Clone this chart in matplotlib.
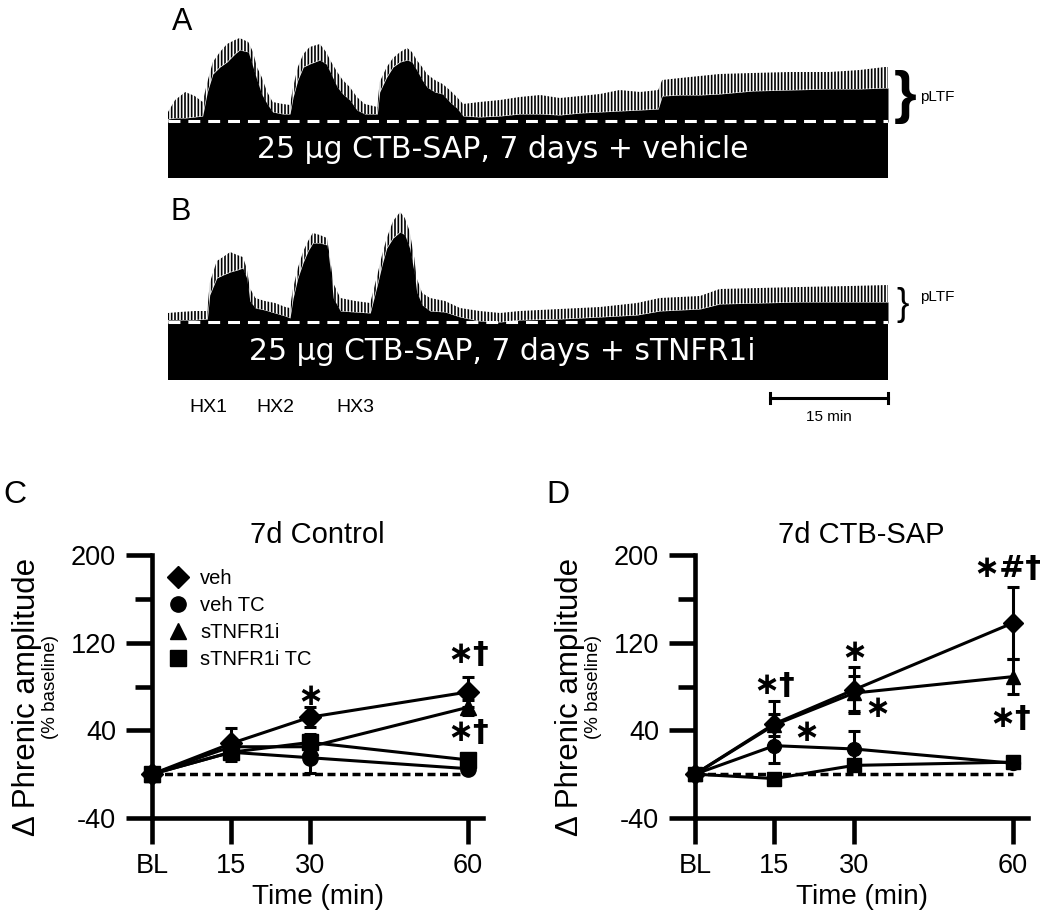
import matplotlib
matplotlib.use("Agg")
import matplotlib.pyplot as plt
from matplotlib.lines import Line2D

plt.rcParams['font.family'] = ['Liberation Sans', 'DejaVu Sans']
plt.rcParams['hatch.linewidth'] = 1.2
plt.rcParams['axes.unicode_minus'] = False

W, H = 1045, 914

# ---- phrenic traces (A, B): time in min, body / spike envelope height (a.u.)
trace_a_t = [0, 0.9, 2.2, 3.4, 4.4, 5.0, 5.7, 6.6, 7.5, 8.5, 9.1, 10.2, 10.8, 11.3, 11.9,
             12.6, 13.3, 14.6, 15.5, 15.9, 16.5, 17.2, 18.0, 19.3, 20.1, 20.6, 21.5, 22.2,
             23.1, 24.0, 25.0, 26.6, 26.9, 27.8, 28.6, 29.5, 30.4, 31.0, 31.6, 32.3, 32.9,
             33.9, 34.9, 35.8, 36.7, 37.5, 39.6, 42.2, 44.7, 47.3, 49.8, 52.4, 54.9, 57.4,
             60.0, 62.3, 62.8, 65.1, 67.6, 70.1, 74.3, 79.0, 84.1, 87.9, 91.1, 91.5]
trace_a_body = [3, 4, 4, 5, 6, 30, 48, 55, 60, 68, 72, 70, 55, 42, 28, 18, 10, 8, 8, 25, 42,
                55, 58, 62, 58, 50, 35, 28, 22, 12, 8, 8, 30, 45, 55, 60, 62, 60, 52, 42, 35,
                30, 28, 20, 14, 6, 5, 6, 8, 8, 7, 9, 10, 11, 12, 13, 26, 27, 27, 28, 31, 32,
                33, 33, 34, 34]
trace_a_spike = [10, 22, 30, 26, 20, 40, 60, 70, 78, 82, 84, 80, 70, 55, 45, 30, 20, 18, 17,
                 35, 55, 68, 75, 78, 70, 62, 50, 42, 35, 25, 18, 15, 40, 55, 64, 70, 74, 70,
                 62, 55, 48, 42, 38, 32, 25, 18, 20, 22, 25, 27, 24, 26, 28, 32, 30, 32, 42,
                 44, 46, 48, 49, 50, 50, 52, 55, 55]

trace_b_t = [0, 1.5, 3.4, 5.0, 5.3, 6.2, 7.0, 7.9, 8.8, 9.5, 10.0, 10.4, 11.1, 12.3, 13.6,
             14.9, 15.5, 15.9, 16.5, 17.2, 17.8, 18.4, 19.3, 20.2, 20.6, 21.0, 21.9, 23.8,
             25.7, 26.6, 27.2, 27.8, 28.6, 29.5, 30.1, 30.7, 31.3, 31.6, 32.3, 33.3, 35.2,
             37.1, 39.6, 42.2, 44.7, 49.8, 54.9, 59.6, 62.5, 67.6, 70.1, 75.2, 80.3, 86.7, 91.5]
trace_b_body = [3, 3, 3, 4, 28, 45, 48, 51, 53, 55, 45, 22, 15, 13, 10, 7, 5, 25, 45, 61, 72,
                80, 80, 78, 55, 25, 12, 11, 10, 38, 58, 75, 85, 91, 88, 75, 50, 31, 18, 12, 11,
                6, 2, 1, 3, 4, 6, 8, 12, 14, 19, 20, 21, 21, 21]
trace_b_spike = [10, 11, 12, 12, 40, 62, 66, 71, 68, 66, 55, 35, 25, 22, 20, 16, 15, 35, 55,
                 72, 82, 90, 88, 85, 65, 40, 25, 22, 20, 48, 68, 85, 102, 111, 105, 92, 65, 45,
                 30, 25, 22, 15, 12, 10, 12, 14, 16, 20, 25, 27, 34, 35, 36, 37, 38]

hx_labels = ['HX1', 'HX2', 'HX3']
hx_t = [5.1, 13.7, 23.8]

# ---- summary data (C, D)
time_labels = ['BL', '15', '30', '60']
time_min = [0, 15, 30, 60]
groups = ['veh', 'veh TC', 'sTNFR1i', 'sTNFR1i TC']
markers = ['D', 'o', '^', 's']

ctrl_mean = {'veh': [0, 28, 52, 75], 'veh TC': [0, 20, 15, 5],
             'sTNFR1i': [0, 25, 25, 61], 'sTNFR1i TC': [0, 20, 29, 13]}
ctrl_sem = {'veh': [0, 14, 9, 14], 'veh TC': [0, 8, 14, 4],
            'sTNFR1i': [0, 6, 6, 7], 'sTNFR1i TC': [0, 6, 8, 4]}

sap_mean = {'veh': [0, 46, 77, 138], 'veh TC': [0, 26, 23, 10],
            'sTNFR1i': [0, 45, 74, 89], 'sTNFR1i TC': [0, -4, 8, 11]}
sap_sem = {'veh': [0, 21, 21, 33], 'veh TC': [0, 16, 16, 3],
           'sTNFR1i': [0, 10, 16, 16], 'sTNFR1i TC': [0, 3, 4, 3]}

ctrl_marks = [('∗', 30, 71), ('∗†', 60, 109), ('∗†', 60, 38)]
sap_marks = [('∗†', 15, 81), ('∗', 21, 38), ('∗', 30, 111), ('∗', 34.5, 60),
             ('∗#†', 59, 188), ('∗†', 59.5, 51)]


def fx(px):
    return px / W


def fy(py):
    return 1 - py / H


fig = plt.figure(figsize=(W / 100, H / 100), dpi=100)


def draw_trace(top, base, bottom, t, body, spike, label):
    ax = fig.add_axes([fx(168), fy(bottom), fx(888) - fx(168), (bottom - top) / H])
    ax.set_xlim(0, 91.5)
    ax.set_ylim(-(bottom - base), base - top)
    ax.axis('off')
    ax.axhspan(-(bottom - base), 0, color='black', lw=0)
    ax.fill_between(t, 0, body, color='black', lw=0)
    ax.fill_between(t, body, spike, facecolor='none', edgecolor='black', hatch='|||||', lw=0)
    ax.plot([0, 91.5], [1, 1], color='white', lw=2.2, dashes=(3.9, 2.6))
    ax.text(42.5, -(bottom - base) / 2, label, color='white', fontsize=21.5,
            family=['DejaVu Sans'], ha='center', va='center')
    return ax


ax_a = draw_trace(30, 122, 178, trace_a_t, trace_a_body, trace_a_spike,
                  '25 μg CTB-SAP, 7 days + vehicle')
ax_b = draw_trace(205, 323, 380, trace_b_t, trace_b_body, trace_b_spike,
                  '25 μg CTB-SAP, 7 days + sTNFR1i')

for lab, t in zip(hx_labels, hx_t):
    ax_b.text(t, -85, lab, fontsize=14, ha='center', va='center', clip_on=False)

# 15 min scale bar
ax_b.plot([76.5, 91.5], [-75, -75], color='black', lw=2.2, clip_on=False)
ax_b.plot([76.5, 76.5], [-70, -80], color='black', lw=2.2, clip_on=False)
ax_b.plot([91.5, 91.5], [-70, -80], color='black', lw=2.2, clip_on=False)
ax_b.text(84, -94, '15 min', fontsize=11, ha='center', va='center', clip_on=False)

fig.text(fx(182), fy(22), 'A', fontsize=22, ha='center', va='center')
fig.text(fx(181), fy(212), 'B', fontsize=22, ha='center', va='center')
fig.text(fx(905), fy(97), '}', fontsize=42, ha='center', va='center', fontweight='bold')
fig.text(fx(903), fy(305), '}', fontsize=27, ha='center', va='center')
fig.text(fx(920), fy(97), 'pLTF', fontsize=11, ha='left', va='center')
fig.text(fx(920), fy(297), 'pLTF', fontsize=11, ha='left', va='center')


def draw_summary(left, right, mean, sem, marks, title, letter, ms):
    ax = fig.add_axes([fx(left), fy(818), fx(right) - fx(left), (818 - 555) / H])
    ax.set_xlim(0, 62.85)
    ax.set_ylim(-40, 200)
    for s in ['top', 'right']:
        ax.spines[s].set_visible(False)
    for s in ['left', 'bottom']:
        ax.spines[s].set_linewidth(3.3)
    ax.set_xticks(time_min)
    ax.set_xticklabels(time_labels)
    ax.set_yticks([-40, 40, 120, 200])
    ax.set_yticks([80, 160], minor=True)
    ax.tick_params(axis='both', which='major', direction='out', length=19, width=3.3,
                   labelsize=19.5, pad=6)
    ax.tick_params(axis='y', which='minor', direction='out', length=12, width=3.3)
    ax.tick_params(axis='y', which='major', pad=7)

    ax.plot([0, 60], [0, 0], color='black', lw=2.5, dashes=(2.3, 1.3), zorder=2)
    handles = []
    for g, m in zip(groups, markers):
        eb = ax.errorbar(time_min, mean[g], yerr=sem[g], color='black', marker=m, ms=ms,
                         lw=2.2, elinewidth=2.2, capsize=4.5, capthick=2.2, zorder=3)
        for art in [eb.lines[0]] + list(eb.lines[1]) + list(eb.lines[2]):
            art.set_clip_on(False)
        handles.append(Line2D([], [], color='black', marker=m, ls='none', ms=ms))

    for txt, x, y in marks:
        ax.text(x, y, txt, fontsize=22.5, fontweight='bold', family=['DejaVu Sans'],
                ha='center', va='center', clip_on=False)

    cx = (left + right) / 2
    fig.text(fx(cx), fy(535), title, fontsize=21, ha='center', va='center')
    fig.text(fx(cx), fy(897), 'Time (min)', fontsize=20, ha='center', va='center')
    fig.text(fx(left - 125), fy(697), 'Δ Phrenic amplitude', fontsize=22.5, rotation=90,
             ha='center', va='center')
    fig.text(fx(left - 101), fy(687), '(% baseline)', fontsize=13.5, rotation=90,
             ha='center', va='center')
    fig.text(fx(left - 137), fy(495), letter, fontsize=23, ha='center', va='center')
    return ax, handles


ax_c, handles = draw_summary(152, 483, ctrl_mean, ctrl_sem, ctrl_marks, '7d Control', 'C', 11)
ax_d, _ = draw_summary(695, 1028, sap_mean, sap_sem, sap_marks, '7d CTB-SAP', 'D', 10)

ax_c.legend(handles, groups, loc='upper left', bbox_to_anchor=(fx(168), fy(569)),
            bbox_transform=fig.transFigure, frameon=False, fontsize=14.5,
            handlelength=1.0, handletextpad=0.6, labelspacing=0.4, borderpad=0,
            borderaxespad=0)

fig.savefig('out.png', dpi=100, facecolor='white')
